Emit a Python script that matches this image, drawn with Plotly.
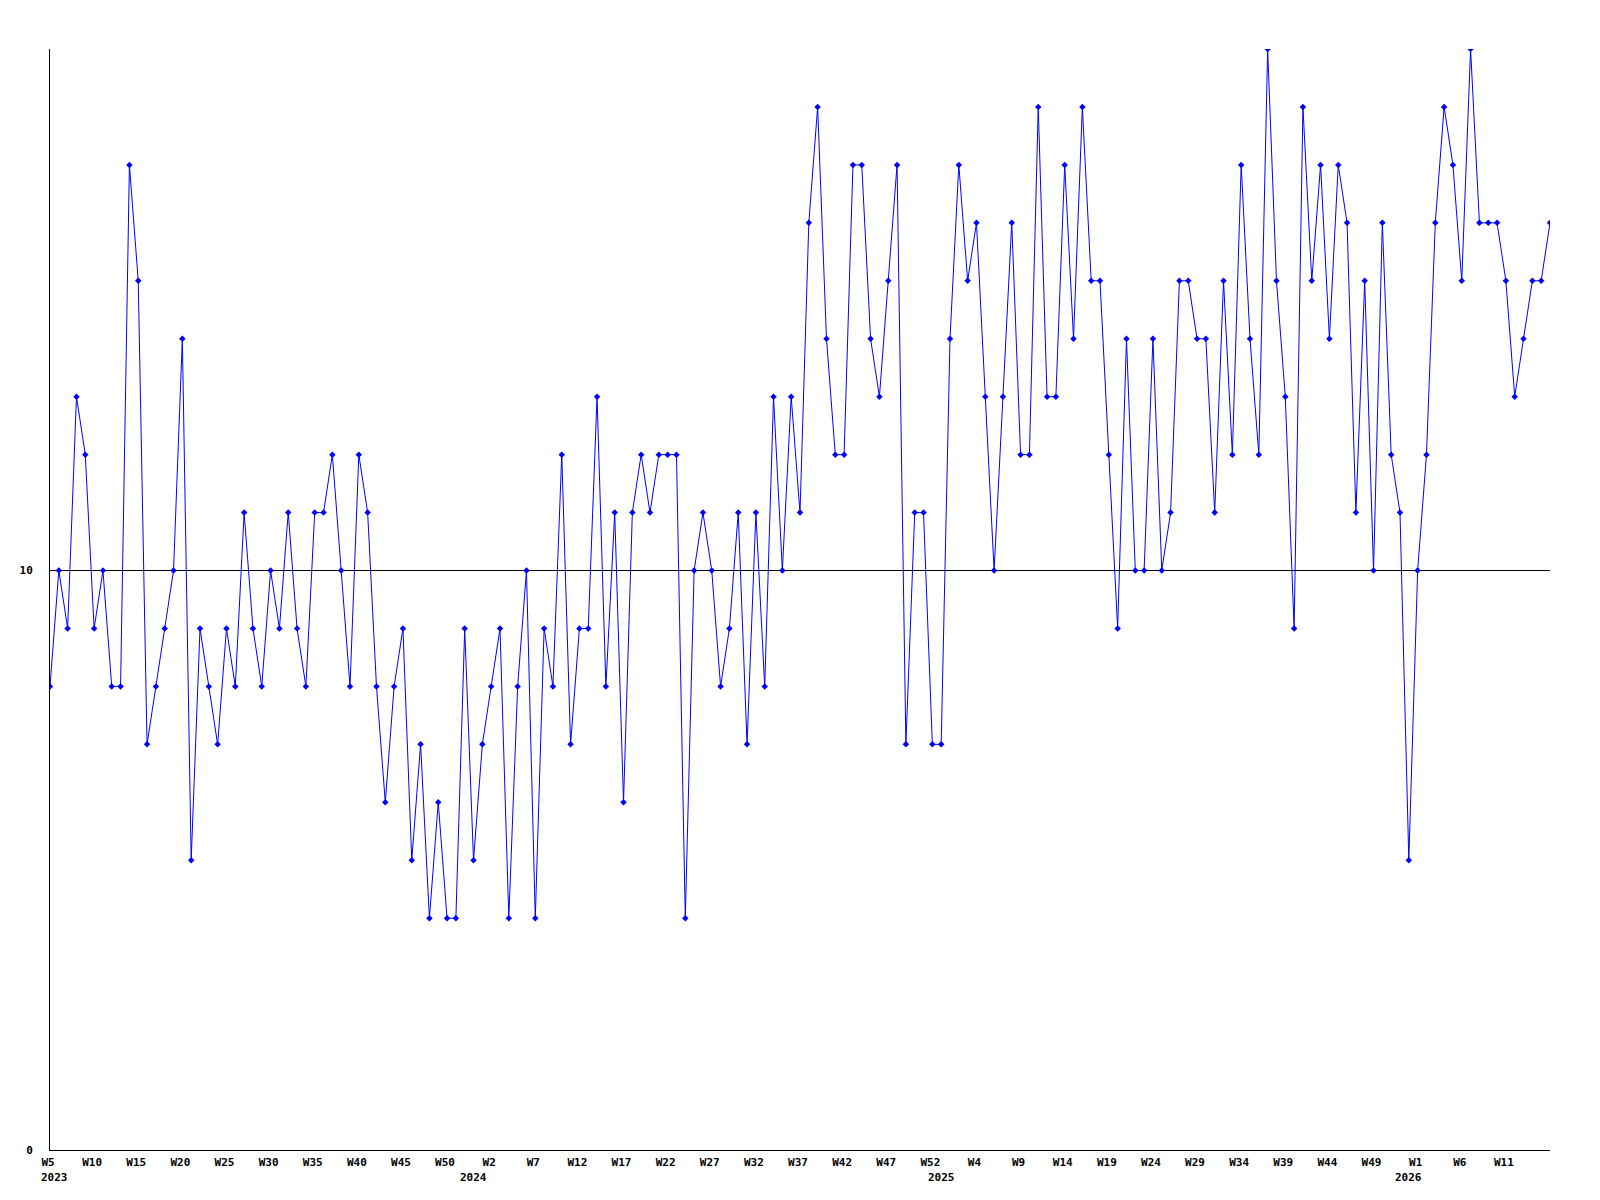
import plotly.graph_objects as go

# weekly counts, 2023 W5 .. 2026
values = [8, 10, 9, 13, 12, 9, 10, 8, 8, 17,
          15, 7, 8, 9, 10, 14, 5, 9, 8, 7,
          9, 8, 11, 9, 8, 10, 9, 11, 9, 8,
          11, 11, 12, 10, 8, 12, 11, 8, 6, 8,
          9, 5, 7, 4, 6, 4, 4, 9, 5, 7,
          8, 9, 4, 8, 10, 4, 9, 8, 12, 7,
          9, 9, 13, 8, 11, 6, 11, 12, 11, 12,
          12, 12, 4, 10, 11, 10, 8, 9, 11, 7,
          11, 8, 13, 10, 13, 11, 16, 18, 14, 12,
          12, 17, 17, 14, 13, 15, 17, 7, 11, 11,
          7, 7, 14, 17, 15, 16, 13, 10, 13, 16,
          12, 12, 18, 13, 13, 17, 14, 18, 15, 15,
          12, 9, 14, 10, 10, 14, 10, 11, 15, 15,
          14, 14, 11, 15, 12, 17, 14, 12, 19, 15,
          13, 9, 18, 15, 17, 14, 17, 16, 11, 15,
          10, 16, 12, 11, 5, 10, 12, 16, 18, 17,
          15, 19, 16, 16, 16, 15, 13, 14, 15, 15, 16]

week_labels = ["W5", "W10", "W15", "W20", "W25", "W30", "W35", "W40", "W45", "W50",
               "W2", "W7", "W12", "W17", "W22", "W27", "W32", "W37", "W42", "W47", "W52",
               "W4", "W9", "W14", "W19", "W24", "W29", "W34", "W39", "W44", "W49",
               "W1", "W6", "W11"]

years = ["2023", "2024", "2025", "2026"]
year_start = [0, 48, 101, 154]   # point index where each year begins

x = list(range(len(values)))
tick_pos = [i * 5 for i in range(len(week_labels))]

font = dict(family="DejaVu Sans Mono", size=11, color="black", weight="bold")

fig = go.Figure()
fig.add_trace(go.Scatter(
    x=x, y=values, mode="lines+markers",
    line=dict(color="#0000ff", width=1),
    marker=dict(color="#0000ff", size=5, symbol="diamond"),
    hoverinfo="x+y",
))

for i, (yr, pos) in enumerate(zip(years, year_start)):
    fig.add_annotation(
        x=pos, y=0, xref="x", yref="paper",
        text=yr, showarrow=False, font=font,
        xanchor="left" if i == 0 else "center",
        xshift=-11 if i == 0 else 0,
        yanchor="middle", yshift=-27,
    )

fig.update_layout(
    width=1600, height=1200,
    margin=dict(l=50, r=50, t=49, b=50),
    paper_bgcolor="white", plot_bgcolor="white",
    showlegend=False,
    font=font,
    xaxis=dict(
        range=[0, len(values) - 1],
        tickmode="array", tickvals=tick_pos, ticktext=week_labels,
        tickfont=font, ticks="", showgrid=False, zeroline=False,
        showline=True, linecolor="black", linewidth=1,
        ticklabelstandoff=2, ticklabelshift=-2,
    ),
    yaxis=dict(
        range=[0, 19],
        tickmode="array", tickvals=[0, 10], ticktext=["0", "10"],
        tickfont=font, ticks="", showgrid=True, gridcolor="black", gridwidth=1,
        zeroline=False, showline=True, linecolor="black", linewidth=1,
        ticklabelstandoff=14,
    ),
)

fig.write_html("out.html", config={"displayModeBar": False},
               post_script="document.body.style.margin='0';")
